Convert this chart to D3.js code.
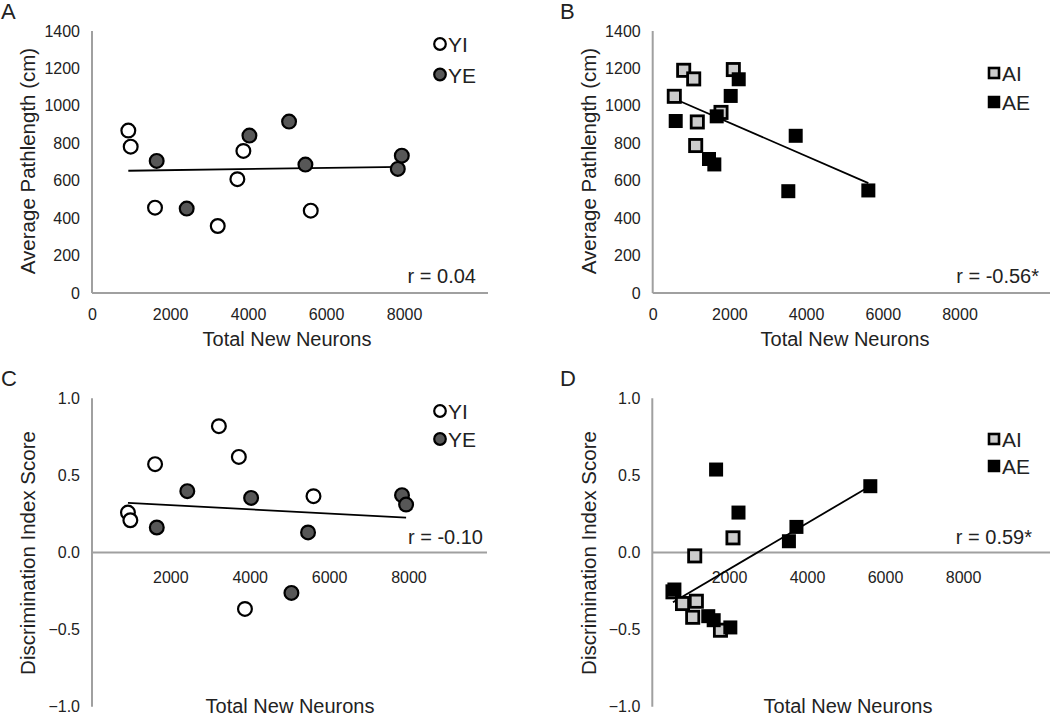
<!DOCTYPE html>
<html>
<head>
<meta charset="utf-8">
<script src="https://cdn.jsdelivr.net/npm/d3@7"></script>
<style>
  html, body { margin: 0; padding: 0; background: #fff; }
  svg { display: block; font-family: "Liberation Sans", Arial, sans-serif; }
</style>
</head>
<body>
<svg id="chart" width="1050" height="716"></svg>
<script>
// ---- Data ----
// Young mice: total new neurons
const xYI = [931, 992, 1615, 3223, 3726, 3880, 5607];
const xYE = [1658, 2427, 4035, 5051, 5470, 7838, 7941];
// Young: average pathlength (cm)
const pathYI = [868, 782, 456, 358, 608, 759, 440];
const pathYE = [706, 451, 841, 916, 686, 663, 734];
// Young: discrimination index
const diYI = [0.259, 0.209, 0.573, 0.819, 0.62, -0.366, 0.365];
const diYE = [0.162, 0.398, 0.354, -0.262, 0.13, 0.372, 0.311];
// Aged mice: total new neurons
const xAI = [563, 808, 1069, 1121, 1163, 1781, 2102];
const xAE = [600, 1468, 1607, 1669, 2034, 2243, 3536, 3729, 5623];
// Aged: average pathlength (cm)
const pathAI = [1051, 1190, 1144, 788, 914, 965, 1194];
const pathAE = [919, 716, 687, 944, 1053, 1142, 544, 840, 548];
// Aged: discrimination index
const diAI = [-0.255, -0.331, -0.42, -0.022, -0.316, -0.504, 0.095];
const diAE = [-0.24, -0.413, -0.439, 0.538, -0.486, 0.259, 0.073, 0.166, 0.43];

const xTicksTop = [0, 2000, 4000, 6000, 8000];
const xTicksBottom = [2000, 4000, 6000, 8000];
const pathTicks = [0, 200, 400, 600, 800, 1000, 1200, 1400];
const diTicks = [-1.0, -0.5, 0.0, 0.5, 1.0];
const rLabels = ["r = 0.04", "r = -0.56*", "r = -0.10", "r = 0.59*"];
const panelLetters = ["A", "B", "C", "D"];
const youngNames = ["YI", "YE"];
const agedNames = ["AI", "AE"];

const svg = d3.select("#chart");
const AXIS = "#a0a0a0";
const TXT = "#222";

function regression(xs, ys) {
  const mx = d3.mean(xs), my = d3.mean(ys);
  let sxy = 0, sxx = 0;
  xs.forEach((x, i) => { sxy += (x - mx) * (ys[i] - my); sxx += (x - mx) * (x - mx); });
  const b = sxy / sxx;
  return { a: my - b * mx, b };
}

function panel(cfg) {
  const g = svg.append("g");
  const x = d3.scaleLinear().domain([0, cfg.xMax]).range([cfg.x0, cfg.x1]);
  const y = d3.scaleLinear().domain(cfg.yDomain).range([cfg.yBottom, cfg.yTop]);
  const zeroY = y(cfg.xAxisAt);

  // y axis line
  g.append("line").attr("x1", cfg.yAxisX).attr("x2", cfg.yAxisX)
    .attr("y1", y(cfg.yDomain[1])).attr("y2", y(cfg.yDomain[0]))
    .attr("stroke", AXIS).attr("stroke-width", 2);
  // x axis line
  g.append("line").attr("x1", cfg.yAxisX).attr("x2", cfg.x1)
    .attr("y1", zeroY).attr("y2", zeroY)
    .attr("stroke", AXIS).attr("stroke-width", 2);

  // y tick labels via axis generator (no tick lines)
  const yAxis = d3.axisLeft(y).tickValues(cfg.yTicks).tickSize(0).tickPadding(0)
    .tickFormat(cfg.yFormat);
  const ya = g.append("g").attr("transform", `translate(${cfg.yAxisX - 12},0)`).call(yAxis);
  ya.select(".domain").remove();
  ya.selectAll("text").attr("font-size", 16).attr("fill", TXT)
    .attr("font-family", "Liberation Sans, Arial, sans-serif");

  // x tick labels
  const xAxis = d3.axisBottom(x).tickValues(cfg.xTicks).tickSize(0).tickPadding(0)
    .tickFormat(d3.format("d"));
  const xa = g.append("g").attr("transform", `translate(0,${cfg.xLabelY})`).call(xAxis);
  xa.select(".domain").remove();
  xa.selectAll("text").attr("font-size", 16).attr("fill", TXT)
    .attr("font-family", "Liberation Sans, Arial, sans-serif");

  // trend line over all points
  const allX = cfg.series[0].xs.concat(cfg.series[1].xs);
  const allY = cfg.series[0].ys.concat(cfg.series[1].ys);
  const reg = regression(allX, allY);
  const ext = d3.extent(allX);
  g.append("line")
    .attr("x1", x(ext[0])).attr("y1", y(reg.a + reg.b * ext[0]))
    .attr("x2", x(ext[1])).attr("y2", y(reg.a + reg.b * ext[1]))
    .attr("stroke", "#000").attr("stroke-width", 1.8);

  // points
  cfg.series.forEach(s => {
    const pts = s.xs.map((v, i) => ({ x: v, y: s.ys[i] }));
    if (cfg.shape === "circle") {
      g.append("g").selectAll("circle").data(pts).join("circle")
        .attr("cx", d => x(d.x)).attr("cy", d => y(d.y)).attr("r", 6.9)
        .attr("fill", s.fill).attr("stroke", "#000").attr("stroke-width", 2.2);
    } else {
      const sz = s.stroke ? 12.2 : 14;
      g.append("g").selectAll("rect").data(pts).join("rect")
        .attr("x", d => x(d.x) - sz / 2).attr("y", d => y(d.y) - sz / 2)
        .attr("width", sz).attr("height", sz)
        .attr("fill", s.fill).attr("stroke", s.stroke ? "#000" : "none").attr("stroke-width", 2.8);
    }
  });

  // legend
  cfg.series.forEach((s, i) => {
    const ly = cfg.legY + i * cfg.legGap;
    if (cfg.shape === "circle") {
      g.append("circle").attr("cx", cfg.legX).attr("cy", ly).attr("r", 5.8)
        .attr("fill", s.fill).attr("stroke", "#000").attr("stroke-width", 2.2);
    } else {
      const sz = s.stroke ? 10 : 12.5;
      g.append("rect").attr("x", cfg.legX - sz / 2).attr("y", ly - sz / 2)
        .attr("width", sz).attr("height", sz)
        .attr("fill", s.fill).attr("stroke", s.stroke ? "#000" : "none").attr("stroke-width", 2.6);
    }
    g.append("text").attr("x", cfg.legX + 8).attr("y", ly + 8)
      .attr("font-size", 21).attr("fill", TXT).text(s.name);
  });

  // r label
  g.append("text").attr("x", cfg.rX).attr("y", cfg.rY).attr("text-anchor", "end")
    .attr("font-size", 20).attr("fill", TXT).text(cfg.r);

  // axis titles
  g.append("text").attr("x", cfg.xTitleX).attr("y", cfg.xTitleY).attr("text-anchor", "middle")
    .attr("font-size", 20).attr("fill", TXT).text("Total New Neurons");
  g.append("text").attr("transform", `translate(${cfg.yTitleX},${cfg.yTitleY}) rotate(-90)`)
    .attr("text-anchor", "middle").attr("font-size", 20.5).attr("fill", TXT).text(cfg.yTitle);

  // panel letter
  g.append("text").attr("x", cfg.letterX).attr("y", cfg.letterY)
    .attr("font-size", 22).attr("fill", TXT).text(cfg.letter);
}

const fmtPath = d3.format("d");
const fmtDI = d3.format(".1f");

panel({
  letter: panelLetters[0], letterX: 1, letterY: 19,
  x0: 92, x1: 488, xMax: 10150, yAxisX: 92,
  yDomain: [0, 1400], yBottom: 293, yTop: 31, xAxisAt: 0,
  yTicks: pathTicks, yFormat: fmtPath, xTicks: xTicksTop, xLabelY: 309,
  shape: "circle",
  series: [{ name: youngNames[0], xs: xYI, ys: pathYI, fill: "#fff" },
           { name: youngNames[1], xs: xYE, ys: pathYE, fill: "#575757" }],
  legX: 440, legY: 44, legGap: 30.5,
  r: rLabels[0], rX: 476, rY: 283,
  xTitleX: 287, xTitleY: 346, yTitleX: 35, yTitleY: 161,
  yTitle: "Average Pathlength (cm)"
});

panel({
  letter: panelLetters[1], letterX: 560, letterY: 19,
  x0: 652.7, x1: 1050, xMax: 10360, yAxisX: 652.7,
  yDomain: [0, 1400], yBottom: 293, yTop: 31, xAxisAt: 0,
  yTicks: pathTicks, yFormat: fmtPath, xTicks: xTicksTop, xLabelY: 309,
  shape: "square",
  series: [{ name: agedNames[0], xs: xAI, ys: pathAI, fill: "#cccccc", stroke: true },
           { name: agedNames[1], xs: xAE, ys: pathAE, fill: "#000" }],
  legX: 994, legY: 73, legGap: 29,
  r: rLabels[1], rX: 1039, rY: 283,
  xTitleX: 845, xTitleY: 346, yTitleX: 596, yTitleY: 161,
  yTitle: "Average Pathlength (cm)"
});

panel({
  letter: panelLetters[2], letterX: 1, letterY: 386,
  x0: 91, x1: 487, xMax: 9980, yAxisX: 92,
  yDomain: [-1, 1], yBottom: 706.7, yTop: 398.3, xAxisAt: 0,
  yTicks: diTicks, yFormat: fmtDI, xTicks: xTicksBottom, xLabelY: 572,
  shape: "circle",
  series: [{ name: youngNames[0], xs: xYI, ys: diYI, fill: "#fff" },
           { name: youngNames[1], xs: xYE, ys: diYE, fill: "#575757" }],
  legX: 440, legY: 411, legGap: 28,
  r: rLabels[2], rX: 483, rY: 544,
  xTitleX: 290, xTitleY: 713, yTitleX: 35, yTitleY: 553,
  yTitle: "Discrimination Index Score"
});

panel({
  letter: panelLetters[3], letterX: 560, letterY: 386,
  x0: 651, x1: 1050, xMax: 10230, yAxisX: 652.3,
  yDomain: [-1, 1], yBottom: 706.7, yTop: 398.3, xAxisAt: 0,
  yTicks: diTicks, yFormat: fmtDI, xTicks: xTicksBottom, xLabelY: 572,
  shape: "square",
  series: [{ name: agedNames[0], xs: xAI, ys: diAI, fill: "#cccccc", stroke: true },
           { name: agedNames[1], xs: xAE, ys: diAE, fill: "#000" }],
  legX: 994, legY: 439, legGap: 27,
  r: rLabels[3], rX: 1032, rY: 544,
  xTitleX: 848, xTitleY: 713, yTitleX: 596, yTitleY: 553,
  yTitle: "Discrimination Index Score"
});
</script>
</body>
</html>
